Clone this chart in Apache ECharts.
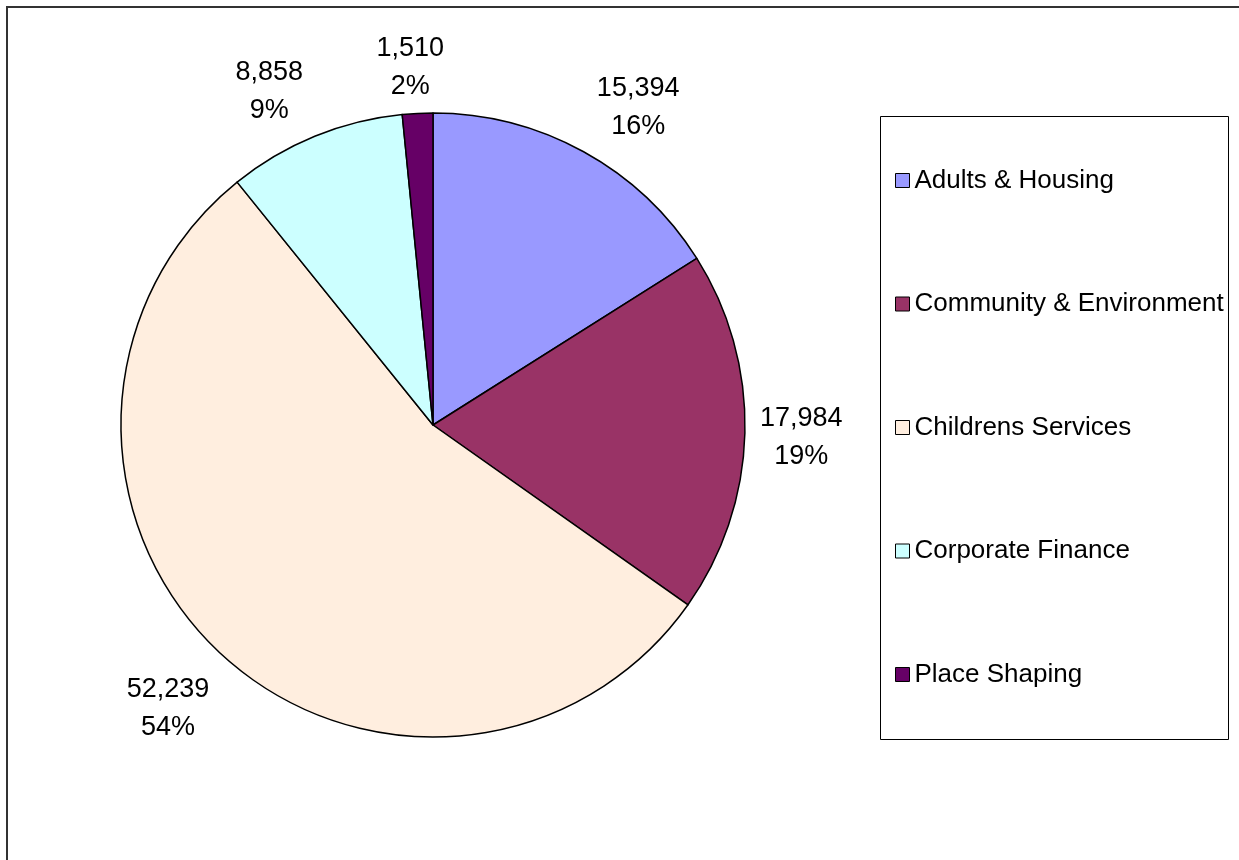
<!DOCTYPE html>
<html>
<head>
<meta charset="utf-8">
<script src="https://cdn.jsdelivr.net/npm/echarts@6/dist/echarts.min.js"></script>
<style>
html,body{margin:0;padding:0;background:#fff;}
#chart{width:1239px;height:860px;}
</style>
</head>
<body>
<div id="chart"></div>
<script>
// ---- data ----
var categories = ['Adults & Housing', 'Community & Environment', 'Childrens Services', 'Corporate Finance', 'Place Shaping'];
var values = [15394, 17984, 52239, 8858, 1510];
var colors = ['#9999FF', '#993366', '#FFEEDF', '#CCFFFF', '#660066'];

// ---- layout config ----
var CX = 433, CY = 425, R = 312, LABEL_R = 327;

var total = values.reduce(function (a, b) { return a + b; }, 0);
var midAngles = [];
(function () {
  var acc = 0;
  for (var i = 0; i < values.length; i++) {
    var start = 90 - acc / total * 360;
    acc += values[i];
    var end = 90 - acc / total * 360;
    midAngles.push((start + end) / 2 * Math.PI / 180);
  }
})();

function clamp(v) { return Math.max(-1, Math.min(1, v)); }

var chart = echarts.init(document.getElementById('chart'), null, { renderer: 'canvas' });
var option = {
  backgroundColor: '#ffffff',
  animation: false,
  textStyle: { fontFamily: 'Liberation Sans, Arial, sans-serif' },
  graphic: [
    { type: 'rect', shape: { x: 7, y: 7, width: 1260, height: 880 }, style: { fill: null, stroke: '#333', lineWidth: 2 }, z: 0 },
    { type: 'rect', shape: { x: 880.5, y: 116.5, width: 348, height: 623 }, style: { fill: '#fff', stroke: '#000', lineWidth: 1 }, z: 0 }
  ],
  legend: {
    orient: 'vertical',
    left: 895,
    top: 165.5,
    padding: 0,
    itemWidth: 14,
    itemHeight: 14,
    itemGap: 93.5,
    icon: 'rect',
    itemStyle: { borderColor: '#000', borderWidth: 1 },
    textStyle: { fontSize: 26, lineHeight: 30, color: '#000', fontFamily: 'Liberation Sans, Arial, sans-serif', padding: [0, 0, 0, 0] },
    data: categories,
    z: 5
  },
  series: [{
    type: 'pie',
    center: [CX, CY],
    radius: R,
    startAngle: 90,
    clockwise: true,
    avoidLabelOverlap: false,
    itemStyle: { borderColor: '#000', borderWidth: 1.5 },
    label: {
      show: true,
      position: 'outside',
      fontSize: 27,
      lineHeight: 38,
      color: '#000',
      align: 'center',
      fontFamily: 'Liberation Sans, Arial, sans-serif',
      formatter: function (p) {
        return p.value.toLocaleString('en-US') + '\n' + Math.round(p.percent) + '%';
      }
    },
    labelLine: { show: false },
    labelLayout: function (p) {
      var a = midAngles[p.dataIndex];
      var ux = Math.cos(a), uy = -Math.sin(a);
      var px = CX + LABEL_R * ux, py = CY + LABEL_R * uy;
      var w = p.labelRect.width, h = p.labelRect.height;
      var sx = clamp(ux / 0.3), sy = clamp(uy / 0.3);
      var dx = uy < 0 ? 6 * sx : 0;
      var dy = 7 * Math.abs(sy);
      return {
        x: px + w / 2 * sx + dx,
        y: py + h / 2 * sy + dy,
        align: 'center',
        verticalAlign: 'middle'
      };
    },
    data: categories.map(function (c, i) {
      return { name: c, value: values[i], itemStyle: { color: colors[i] } };
    })
  }]
};
chart.setOption(option);
</script>
</body>
</html>
